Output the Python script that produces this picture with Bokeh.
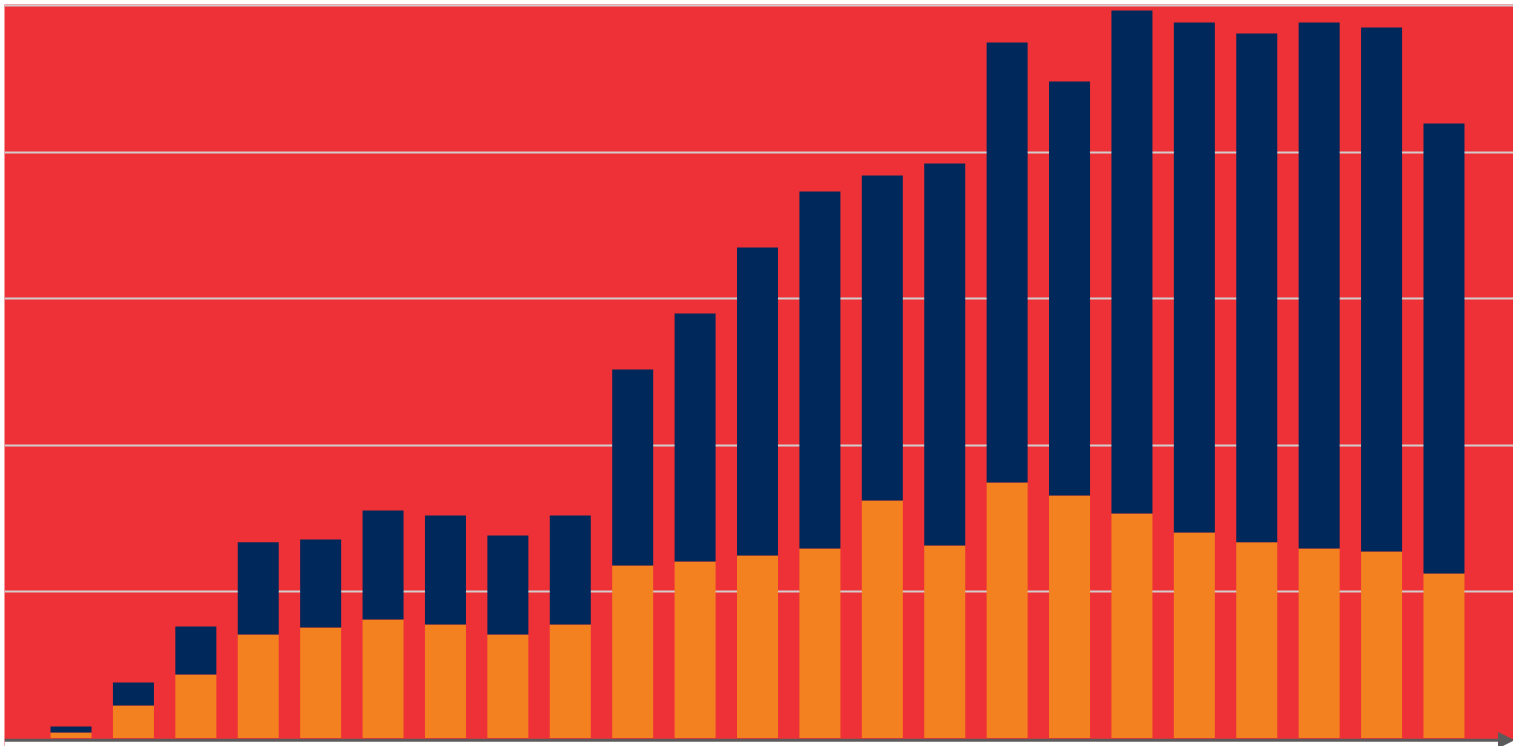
from bokeh.plotting import figure
from bokeh.models import ColumnDataSource, Range1d, FixedTicker, Arrow, NormalHead
from bokeh.embed import file_html
from bokeh.resources import INLINE

# ---- data (units: gridline step = 100) ----
categories = [str(i) for i in range(1, 24)]
orange_vals = [3.8, 22.2, 43.3, 70.6, 75.4, 80.9, 77.5, 70.6, 77.5, 117.7, 120.5, 124.6,
               129.4, 162.1, 131.4, 174.4, 165.5, 153.2, 140.3, 133.6, 129.4, 127.3, 112.3]
total_vals = [7.8, 37.9, 76.1, 133.6, 135.5, 155.3, 151.9, 138.2, 151.9, 251.5, 289.8, 334.8,
              373.0, 383.9, 392.2, 474.7, 448.1, 496.6, 488.4, 480.9, 488.4, 485.0, 419.5]
navy_vals = [round(t - o, 1) for t, o in zip(total_vals, orange_vals)]
grid_ticks = [100, 200, 300, 400, 500]

RED = "#EE3137"
ORANGE = "#F48120"
NAVY = "#01285A"
AXIS = "#5b5b5b"

xs = list(range(len(categories)))
src = ColumnDataSource(dict(x=xs, cat=categories, orange=orange_vals, navy=navy_vals))

x0, x1 = -1.066, len(categories) - 1 + 1.114
y0, y1 = -5.8, 500.7

p = figure(width=1513, height=746, output_backend="svg", toolbar_location=None,
           x_range=Range1d(x0, x1), y_range=Range1d(y0, y1),
           min_border_left=4, min_border_top=4, min_border_right=0, min_border_bottom=0)
p.background_fill_color = RED
p.border_fill_color = "white"
p.outline_line_color = None
p.xaxis.visible = False
p.yaxis.visible = False
p.xgrid.grid_line_color = None
p.ygrid.ticker = FixedTicker(ticks=grid_ticks)
p.ygrid.grid_line_color = "#d2cccc"
p.ygrid.grid_line_width = 2

p.vbar_stack(["orange", "navy"], x="x", width=0.657, source=src,
             color=[ORANGE, NAVY], line_color=None)

# white strip below the baseline
p.quad(left=[x0], right=[x1], bottom=[y0 - 5], top=[-1.5], fill_color="white", line_color=None)

# axis with arrow head
p.add_layout(Arrow(end=NormalHead(size=15, fill_color=AXIS, line_color=AXIS),
                   x_start=x0, y_start=-1.5, x_end=x1, y_end=-1.5,
                   line_color=AXIS, line_width=3))

open("out.html", "w").write(file_html(p, INLINE))
